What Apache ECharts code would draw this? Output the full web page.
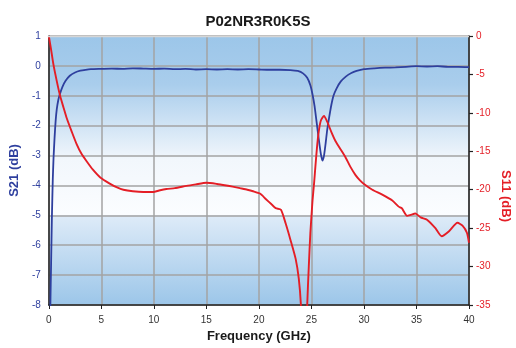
<!DOCTYPE html>
<html>
<head>
<meta charset="utf-8">
<script src="https://cdn.jsdelivr.net/npm/echarts@6/dist/echarts.min.js"></script>
<style>
html,body{margin:0;padding:0;background:#fff;}
#chart{width:516px;height:348px;}
</style>
</head>
<body>
<div id="chart"></div>
<script>
const chartTitle = 'P02NR3R0K5S';
const xTicks = [0, 5, 10, 15, 20, 25, 30, 35, 40];

const s21Freq = [0.1,0.15,0.22,0.3,0.38,0.45,0.55,0.65,0.76,0.9,1.05,1.3,1.6,2.0,2.5,3.0,3.5,4.0,5,6,7,8,9,10,11,12,13,14,15,16,17,18,19,20,21,22,23,23.7,24.2,24.6,24.9,25.1,25.3,25.5,25.7,25.9,26.05,26.2,26.35,26.5,26.7,26.9,27.1,27.4,27.8,28.3,28.8,29.3,30,31,32,33,34,35,36,37,38,39,40];
const s21Vals = [-9.5,-8.0,-6.6,-5.0,-3.8,-3.1,-2.4,-1.85,-1.45,-1.15,-0.95,-0.7,-0.5,-0.33,-0.22,-0.16,-0.13,-0.11,-0.10,-0.09,-0.10,-0.08,-0.09,-0.10,-0.09,-0.11,-0.10,-0.12,-0.11,-0.12,-0.11,-0.12,-0.11,-0.12,-0.13,-0.13,-0.14,-0.17,-0.25,-0.4,-0.65,-0.95,-1.35,-1.9,-2.45,-2.95,-3.17,-3.0,-2.6,-2.15,-1.7,-1.3,-1.0,-0.75,-0.52,-0.35,-0.24,-0.17,-0.11,-0.08,-0.06,-0.05,-0.03,-0.01,-0.02,-0.01,-0.03,-0.03,-0.04];

const s11Freq = [0,0.2,0.44,0.75,1.07,1.4,1.71,2.2,2.66,3.1,3.6,4.2,4.9,5.8,6.5,7.1,8.0,9.0,9.95,10.5,11.2,12.0,13.1,14.0,15.0,16.0,16.9,17.5,18.2,18.9,19.45,20.1,20.65,21.2,21.6,22.1,22.55,23.0,23.5,23.8,24.0,24.2,24.35,24.5,24.6,24.75,24.9,25.1,25.25,25.4,25.55,25.7,25.9,26.2,26.5,26.9,27.3,27.8,28.25,28.7,29.2,29.6,30.0,30.8,31.7,32.7,33.3,33.6,34.1,34.4,34.9,35.4,36.0,36.8,37.4,38.1,38.9,39.4,39.8,40];
const s11Vals = [0,-1.6,-3.7,-5.8,-7.75,-9.3,-10.7,-12.5,-14.1,-15.3,-16.3,-17.4,-18.4,-19.2,-19.7,-20.0,-20.2,-20.3,-20.3,-20.1,-19.9,-19.8,-19.5,-19.3,-19.1,-19.25,-19.45,-19.6,-19.8,-20.0,-20.2,-20.5,-21.2,-21.9,-22.4,-22.6,-24.4,-26.5,-29.0,-31.6,-35,-42,-55,-42,-35,-30,-25.6,-21.5,-19.2,-16.6,-14.2,-12.4,-11.0,-10.4,-11.15,-12.5,-13.7,-14.8,-15.8,-17.0,-18.1,-18.75,-19.25,-20.0,-20.6,-21.4,-22.2,-22.4,-23.4,-23.3,-23.1,-23.6,-23.9,-25.0,-26.05,-25.4,-24.3,-24.7,-25.6,-26.9];

const BLUE = '#2e3f9e';
const RED = '#e41e26';
const boldFont = "'Liberation Sans',Arial,Helvetica,sans-serif";
const tickFont = "'Liberation Sans',Arial,Helvetica,sans-serif";

const chart = echarts.init(document.getElementById('chart'), null, {renderer: 'canvas'});
chart.setOption({
  animation: false,
  title: {
    text: chartTitle, left: 'center', top: 9,
    textStyle: {fontFamily: boldFont, fontWeight: 'bold', fontSize: 15, color: '#1a1a1a'}
  },
  grid: {
    left: 48, right: 47, top: 36, bottom: 38,
    show: true, borderWidth: 0,
    backgroundColor: new echarts.graphic.LinearGradient(0, 0, 0, 1, [
      {offset: 0, color: '#9cc6e9'},
      {offset: 0.18, color: '#a9cdec'},
      {offset: 0.46, color: '#f2f7fc'},
      {offset: 0.665, color: '#fbfdff'},
      {offset: 0.668, color: '#deebf8'},
      {offset: 1, color: '#9cc6e9'}
    ])
  },
  xAxis: {
    type: 'value', min: 0, max: 40, interval: 5,
    name: 'Frequency (GHz)', nameLocation: 'middle', nameGap: 25,
    nameTextStyle: {fontFamily: boldFont, fontWeight: 'bold', fontSize: 13, color: '#1a1a1a'},
    axisLine: {show: true, onZero: false, lineStyle: {color: '#222', width: 1.5}},
    axisTick: {show: true, length: 4, lineStyle: {color: '#222'}},
    axisLabel: {fontFamily: tickFont, fontSize: 10, color: '#333', margin: 10,
      formatter: v => xTicks.includes(v) ? String(v) : ''},
    splitLine: {show: true, lineStyle: {color: '#a3a3a3', width: 1.5}}
  },
  yAxis: [
    {
      type: 'value', min: -8, max: 1, interval: 1, position: 'left',
      name: 'S21 (dB)', nameLocation: 'middle', nameGap: 26, nameRotate: 90,
      nameTextStyle: {fontFamily: boldFont, fontWeight: 'bold', fontSize: 13, color: BLUE},
      axisLine: {show: true, onZero: false, lineStyle: {color: '#222', width: 1.5}},
      axisTick: {show: false},
      axisLabel: {fontFamily: tickFont, fontSize: 10, color: BLUE, margin: 8},
      splitLine: {show: true, lineStyle: {color: '#a3a3a3', width: 1.5}}
    },
    {
      type: 'value', min: -35, max: 0, interval: 5, position: 'right',
      axisLine: {show: true, onZero: false, lineStyle: {color: '#222', width: 1.5}},
      axisTick: {show: true, length: 4, lineStyle: {color: '#222', width: 1.2}},
      axisLabel: {fontFamily: tickFont, fontSize: 10, color: RED, margin: 7},
      splitLine: {show: false}
    }
  ],
  graphic: [
    {type: 'line', shape: {x1: 48, y1: 36.5, x2: 469, y2: 36.5}, style: {stroke: '#d6d6d6', lineWidth: 1.5}, z: 100},
    {type: 'text', x: 506, y: 196, rotation: -Math.PI / 2,
      style: {text: 'S11 (dB)', align: 'center', verticalAlign: 'middle',
        font: "bold 13px 'Liberation Sans',Arial,sans-serif", fill: RED}}
  ],
  series: [
    {
      name: 'S21', type: 'line', yAxisIndex: 0, showSymbol: false, smooth: 0.2, clip: true,
      data: s21Freq.map((f, i) => [f, s21Vals[i]]),
      lineStyle: {color: BLUE, width: 1.8}, z: 3
    },
    {
      name: 'S11', type: 'line', yAxisIndex: 1, showSymbol: false, smooth: 0.2, clip: true,
      data: s11Freq.map((f, i) => [f, s11Vals[i]]),
      lineStyle: {color: RED, width: 1.9}, z: 4
    }
  ]
});
</script>
</body>
</html>
